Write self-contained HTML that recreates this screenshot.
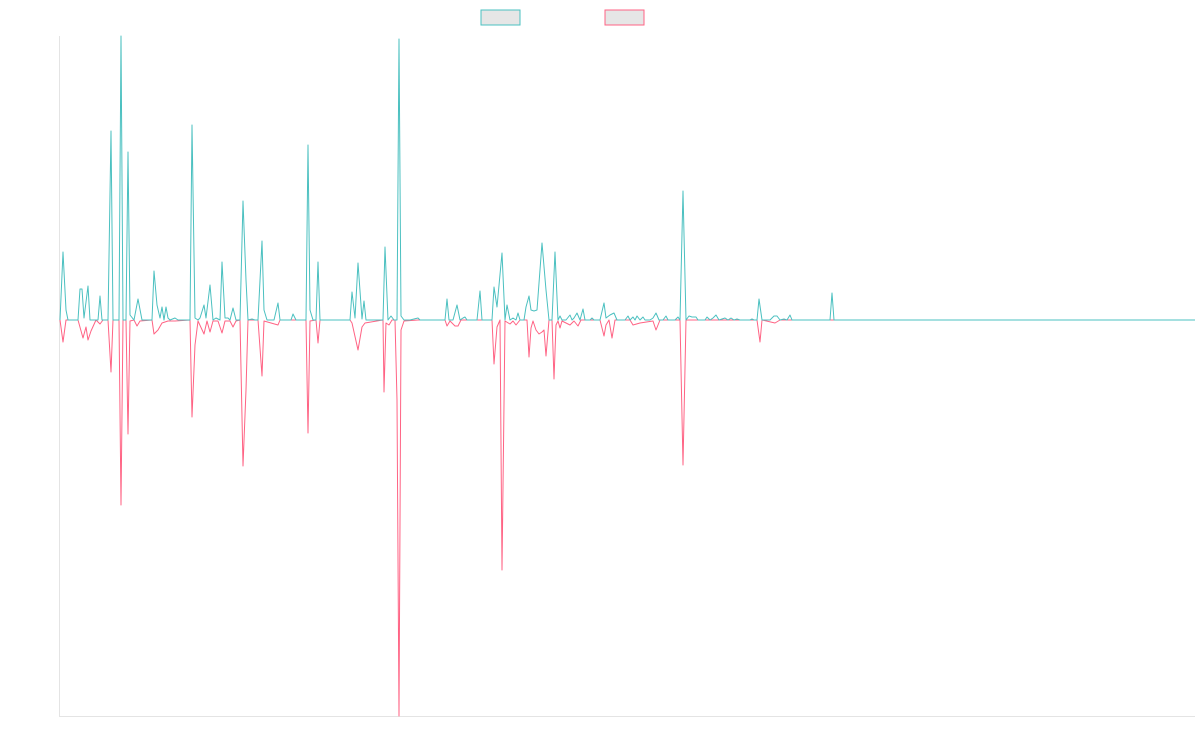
<!DOCTYPE html>
<html><head><meta charset="utf-8"><style>html,body{margin:0;padding:0;background:#fff;width:1200px;height:750px;overflow:hidden}</style></head>
<body>
<svg width="1200" height="750" viewBox="0 0 1200 750" xmlns="http://www.w3.org/2000/svg">
<line x1="59.5" y1="36" x2="59.5" y2="716" stroke="#e4e4e4" stroke-width="1"/>
<line x1="59" y1="716.5" x2="1195" y2="716.5" stroke="#e4e4e4" stroke-width="1"/>
<rect x="481" y="10" width="39" height="15" fill="#e6e6e6" stroke="#4bc0c0" stroke-width="1"/>
<rect x="605" y="10" width="39" height="15" fill="#e6e6e6" stroke="#ff6384" stroke-width="1"/>
<polyline fill="none" stroke="#ff6384" stroke-width="1" stroke-linejoin="round" points="60,320 63,342 66,320 78,320 83,338 86,327 88,340 91,331 96,320 100,324 103,320 108,320 111,372 113,320 119,320 121,505 123,320 126,320 128,434 130,321 134,320 137,326 140,321 152,320 154,334 158,330 162,323 168,321 175,321 190,320 192,417 195,345 198,321 204,334 207,321 210,332 213,321 218,321 222,333 225,321 230,321 233,327 236,321 240,320 243,466 246,390 248,320 252,320 258,320 262,376 264,321 278,325 280,320 306,320 308,433 310,321 316,320 318,343 320,320 350,320 352,323 358,350 362,327 365,323 383,320 384,392 386,323 389,325 392,320 395,320 397,400 399,716 401,330 404,321 418,320 445,320 447,326 450,321 455,326 458,326 461,320 492,320 494,364 497,327 500,320 502,570 505,321 510,324 513,321 516,325 520,320 527,320 529,357 531,328 533,321 536,330 539,334 542,332 544,330 546,356 549,320 552,320 554,379 556,325 558,321 560,328 562,321 570,325 574,321 578,326 581,320 600,320 604,336 606,325 609,320 612,338 615,320 630,320 633,325 640,323 653,321 656,330 660,320 680,320 683,465 686,320 700,320 757,320 760,342 762,320 775,323 780,320 1195,320"/>
<polyline fill="none" stroke="#4bc0c0" stroke-width="1" stroke-linejoin="round" points="60,320 63,252 66,310 68,320 78,320 80,289 82,289 84,318 88,286 90,320 98,320 100,296 102,320 108,320 111,131 113,320 119,320 121,36 123,320 126,320 128,152 130,315 134,320 138,299 142,320 152,320 154,271 157,305 160,318 162,307 164,320 166,307 168,318 170,320 175,318 178,320 190,320 192,125 195,318 198,320 200,318 204,305 206,318 210,285 213,320 216,318 220,320 222,262 225,318 228,318 230,320 233,308 236,320 240,320 243,201 246,280 248,320 252,319 255,320 258,320 262,241 264,310 267,320 274,320 278,303 280,320 291,320 293,314 296,320 306,320 308,145 310,310 313,320 316,320 318,262 320,320 350,320 352,292 355,318 358,263 362,319 364,301 366,320 383,320 385,247 388,320 391,316 394,320 397,320 399,39 401,316 404,320 410,320 414,319 418,318 420,320 445,320 447,299 449,320 453,320 457,305 460,320 463,318 465,317 467,320 477,320 480,291 482,320 492,320 494,287 497,307 502,253 505,320 507,305 510,320 513,318 516,320 518,313 520,320 524,320 526,307 529,296 531,310 534,311 537,310 542,243 546,290 549,320 552,320 555,252 558,320 560,316 562,320 566,320 570,315 572,320 574,318 577,313 580,320 583,309 585,320 590,320 592,318 594,320 600,320 604,303 606,318 610,315 614,313 617,320 625,320 628,316 630,320 633,317 635,320 637,316 640,320 643,317 645,320 650,320 653,318 656,313 659,320 663,320 666,316 668,320 675,320 678,317 680,320 683,191 686,320 689,316 692,317 696,317 698,320 705,320 707,317 710,320 713,318 716,315 719,320 725,318 728,320 731,318 734,320 737,319 740,320 750,320 752,319 754,320 757,320 759,299 762,320 770,320 774,316 777,316 780,320 784,319 787,320 790,315 792,320 830,320 832,293 834,320 1195,320"/>
</svg>
</body></html>
